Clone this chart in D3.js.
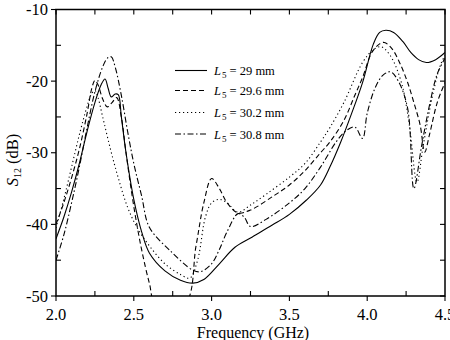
<!DOCTYPE html>
<html><head><meta charset="utf-8">
<script src="https://cdn.jsdelivr.net/npm/d3@7"></script>
<style>body{margin:0;background:#fff}svg{display:block}text{font-family:"Liberation Serif","Times New Roman",serif;fill:#000}</style>
</head><body><svg id="c" width="450" height="340"></svg>
<script>
const xTicks = [2.0, 2.5, 3.0, 3.5, 4.0, 4.5];
const yTicks = [-10, -20, -30, -40, -50];
const legendLabels = ["29 mm", "29.6 mm", "30.2 mm", "30.8 mm"];

const solid = [[2.0,-42],[2.05,-39],[2.1,-35.5],[2.15,-31.5],[2.2,-27],[2.25,-23],[2.29,-20.5],[2.315,-19.7],[2.335,-21],[2.355,-22.2],[2.38,-21.8],[2.40,-21.9],[2.42,-25],[2.45,-30],[2.5,-36.5],[2.55,-41],[2.6,-44],[2.7,-46.5],[2.8,-47.8],[2.88,-48.2],[2.95,-47.7],[3.05,-45.5],[3.15,-43.2],[3.25,-41.9],[3.39,-40.1],[3.5,-38.6],[3.61,-36.6],[3.7,-34.5],[3.76,-32],[3.83,-28.5],[3.9,-24.5],[3.97,-20.2],[4.04,-14.8],[4.08,-13.2],[4.12,-12.9],[4.17,-13.2],[4.23,-14.5],[4.28,-16],[4.33,-17],[4.38,-17.4],[4.44,-17],[4.5,-16]];
const dashed = [[2.0,-40],[2.05,-37],[2.1,-33.5],[2.15,-29.5],[2.2,-24.5],[2.23,-21],[2.25,-19.9],[2.27,-20.5],[2.3,-22.5],[2.33,-23.6],[2.36,-23],[2.39,-22.3],[2.42,-25],[2.45,-30],[2.5,-37.5],[2.55,-43.5],[2.6,-48.2],[2.64,-51],[2.83,-51],[2.9,-43],[2.95,-37],[3.0,-33.6],[3.05,-35],[3.1,-37],[3.17,-38.4],[3.25,-38],[3.4,-36],[3.5,-34.5],[3.6,-32.5],[3.7,-30],[3.76,-28.5],[3.85,-25.5],[3.92,-22],[3.97,-19.5],[4.03,-16],[4.08,-14.8],[4.11,-14.6],[4.16,-15.5],[4.21,-17.5],[4.26,-20.2],[4.3,-23],[4.34,-26.1],[4.37,-29.9],[4.4,-27.5],[4.45,-23],[4.5,-20.2]];
const dotted = [[2.0,-40.5],[2.05,-36.5],[2.1,-32],[2.15,-27.5],[2.2,-23.5],[2.23,-21.7],[2.25,-21.3],[2.27,-22.3],[2.3,-25],[2.35,-29.5],[2.4,-33.5],[2.46,-37.6],[2.52,-40.4],[2.6,-43],[2.7,-45.5],[2.8,-47],[2.86,-47.5],[2.91,-45],[2.96,-39],[3.0,-37],[3.05,-36.5],[3.1,-37],[3.17,-38.3],[3.25,-37.3],[3.35,-35.8],[3.5,-33.4],[3.6,-31.5],[3.7,-28.5],[3.76,-26.5],[3.85,-23],[3.97,-17.4],[4.04,-15.6],[4.09,-15.2],[4.15,-16.5],[4.22,-20.2],[4.27,-26],[4.32,-34.1],[4.36,-29],[4.42,-22],[4.47,-17.8],[4.5,-16.4]];
const dashdot = [[2.0,-45],[2.05,-41.5],[2.1,-37],[2.15,-32],[2.2,-26.5],[2.25,-21.5],[2.3,-18],[2.33,-16.8],[2.355,-16.6],[2.38,-18],[2.42,-22],[2.46,-27],[2.5,-31.5],[2.55,-36],[2.6,-40.4],[2.73,-43.6],[2.88,-46.4],[2.93,-46.6],[3.0,-45.5],[3.05,-43.5],[3.1,-41],[3.17,-38.5],[3.21,-39],[3.25,-40.3],[3.35,-39.3],[3.5,-37],[3.6,-35],[3.7,-32],[3.8,-28.5],[3.86,-27],[3.92,-26.4],[3.97,-28],[4.0,-24.5],[4.05,-21],[4.1,-19.2],[4.15,-18.7],[4.2,-20],[4.26,-23.8],[4.3,-35],[4.35,-29],[4.4,-23.4],[4.45,-19],[4.5,-16.8]];

const series = [solid, dashed, dotted, dashdot];
const dashes = [null, "5,3", "1.2,2.8", "6,2.5,1.5,2.5"];

const svg = d3.select("#c");
const L = 56, R = 445, T = 9.5, B = 296;
const x = d3.scaleLinear().domain([2.0, 4.5]).range([L, R]);
const y = d3.scaleLinear().domain([-50, -10]).range([B, T]);

svg.append("clipPath").attr("id","clip").append("rect").attr("x",L).attr("y",T).attr("width",R-L).attr("height",B-T);

const line = d3.line().x(d=>x(d[0])).y(d=>y(d[1])).curve(d3.curveCatmullRom.alpha(0.5));
const g = svg.append("g").attr("clip-path","url(#clip)");
series.forEach((s,i)=>{
  g.append("path").attr("d", line(s)).attr("fill","none").attr("stroke","#000")
   .attr("stroke-width",1.1).attr("stroke-dasharray", dashes[i]);
});

svg.append("rect").attr("x",L).attr("y",T).attr("width",R-L).attr("height",B-T)
  .attr("fill","none").attr("stroke","#000").attr("stroke-width",1.5);

const xAll = d3.range(0, 11).map(i => 2.0 + i*0.25);
const yAll = d3.range(0, 9).map(i => -50 + i*5);
const tk = 5;
const ticks = svg.append("g").attr("stroke","#000").attr("stroke-width",1.1);
xAll.forEach(v=>{
  const major = Math.abs((v*2) - Math.round(v*2)) < 1e-6;
  ticks.append("line").attr("x1",x(v)).attr("x2",x(v)).attr("y1",T).attr("y2",T+tk);
  if (major) ticks.append("line").attr("x1",x(v)).attr("x2",x(v)).attr("y1",B).attr("y2",B+tk);
  else ticks.append("line").attr("x1",x(v)).attr("x2",x(v)).attr("y1",B).attr("y2",B-tk);
});
yAll.forEach(v=>{
  const major = v % 10 === 0;
  ticks.append("line").attr("y1",y(v)).attr("y2",y(v)).attr("x1",R).attr("x2",R-tk);
  if (major) ticks.append("line").attr("y1",y(v)).attr("y2",y(v)).attr("x1",L).attr("x2",L-tk);
  else ticks.append("line").attr("y1",y(v)).attr("y2",y(v)).attr("x1",L).attr("x2",L+tk);
});

svg.append("g").selectAll("text").data(xTicks).join("text")
  .attr("x", d=>x(d)).attr("y", B+24).attr("text-anchor","middle").attr("font-size",16.5)
  .text(d=>d.toFixed(1));
svg.append("g").selectAll("text").data(yTicks).join("text")
  .attr("x", L-8).attr("y", d=>y(d)+5.5).attr("text-anchor","end").attr("font-size",16.5)
  .text(d=>d);

svg.append("text").attr("x", 253).attr("y", 338).attr("text-anchor","middle").attr("font-size",16)
  .text("Frequency (GHz)");

const yl = svg.append("text").attr("transform",`translate(18,160) rotate(-90)`).attr("text-anchor","middle").attr("font-size",16.5);
yl.append("tspan").attr("font-style","italic").text("S");
yl.append("tspan").attr("font-size",10).attr("dy",3).text("12");
yl.append("tspan").attr("dy",-3).text(" (dB)");

const ly = [70.5, 90.5, 112.5, 134];
const lg = svg.append("g");
legendLabels.forEach((t,i)=>{
  lg.append("line").attr("x1",175).attr("x2",207).attr("y1",ly[i]).attr("y2",ly[i])
    .attr("stroke","#000").attr("stroke-width",1.1).attr("stroke-dasharray",dashes[i]);
  const tx = lg.append("text").attr("x",214).attr("y",ly[i]+4.5).attr("font-size",12.5);
  tx.append("tspan").attr("font-style","italic").text("L");
  tx.append("tspan").attr("font-size",9).attr("dy",3).attr("dx",1).text("5");
  tx.append("tspan").attr("dy",-3).text(" = " + t);
});
</script></body></html>
